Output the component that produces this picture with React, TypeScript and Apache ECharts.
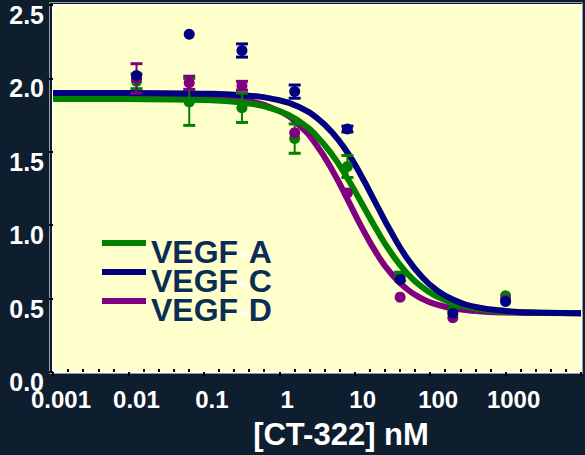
import React, { useEffect, useRef } from "react";
import * as echarts from "echarts";

// Fitted curve readings (x in nM, y response)
const curveX = [0.001, 0.01, 0.1, 0.3, 1, 2, 3, 5, 8, 12, 20, 30, 50, 80, 120, 200, 400, 1000, 3000, 10000];
const curveA = [1.86, 1.859, 1.853, 1.837, 1.778, 1.695, 1.618, 1.482, 1.32, 1.162, 0.96, 0.816, 0.67, 0.574, 0.517, 0.469, 0.433, 0.412, 0.404, 0.401];
const curveC = [1.9, 1.9, 1.896, 1.887, 1.851, 1.795, 1.74, 1.634, 1.495, 1.344, 1.128, 0.958, 0.771, 0.641, 0.561, 0.494, 0.444, 0.416, 0.404, 0.401];
const curveD = [1.88, 1.88, 1.873, 1.854, 1.777, 1.664, 1.558, 1.378, 1.178, 0.999, 0.799, 0.674, 0.562, 0.497, 0.461, 0.434, 0.415, 0.405, 0.402, 0.4];

// Measured points
const conc = [0.0128, 0.064, 0.32, 1.6, 8, 40, 200, 1000];
const meanA = [1.98, 1.84, 1.8, 1.59, 1.4, 0.65, 0.42, 0.52];
const errA = [0.05, 0.16, 0.1, 0.1, 0.075, 0.03, 0, 0];
const meanC = [2.02, 2.3, 2.19, 1.91, 1.655, 0.63, 0.4, 0.48];
const errC = [0, 0, 0.045, 0.045, 0.02, 0, 0, 0];
const meanD = [2.0, 1.97, 1.95, 1.63, 1.22, 0.51, 0.37, 0.49];
const errD = [0.1, 0.045, 0.03, 0, 0, 0, 0, 0];

const seriesNames = ["VEGF-A", "VEGF-C", "VEGF-D"];
const xTickLabels = ["0.001", "0.01", "0.1", "1", "10", "100", "1000", ""];
const yTickLabels = ["0.0", "0.5", "1.0", "1.5", "2.0", "2.5"];

const COLORS: Record<string, string> = {
  "VEGF-A": "#008000",
  "VEGF-C": "#000080",
  "VEGF-D": "#800080",
};
const FONT = "'Liberation Sans', Arial, Helvetica, sans-serif";

function pairs(xs: number[], ys: number[]) {
  return xs.map((x, i) => [x, ys[i]]);
}
function triples(xs: number[], ys: number[], es: number[]) {
  return xs.map((x, i) => [x, ys[i], es[i]]);
}

function errorSeries(name: string, xs: number[], ys: number[], es: number[], z: number) {
  const color = COLORS[name];
  return {
    type: "custom",
    name,
    z,
    xAxisIndex: 0,
    itemStyle: { color },
    data: triples(xs, ys, es),
    encode: { x: 0, y: 1 },
    renderItem: (params: any, api: any) => {
      const x = api.value(0);
      const m = api.value(1);
      const e = api.value(2);
      if (!e) return { type: "group", children: [] };
      const top = api.coord([x, m + e]);
      const bot = api.coord([x, m - e]);
      const hw = 6;
      return {
        type: "group",
        children: [
          { type: "line", shape: { x1: top[0], y1: top[1], x2: bot[0], y2: bot[1] }, style: { stroke: color, lineWidth: 2 } },
          { type: "line", shape: { x1: top[0] - hw, y1: top[1], x2: top[0] + hw, y2: top[1] }, style: { stroke: color, lineWidth: 3 } },
          { type: "line", shape: { x1: bot[0] - hw, y1: bot[1], x2: bot[0] + hw, y2: bot[1] }, style: { stroke: color, lineWidth: 3 } },
        ],
      };
    },
  };
}

function curveSeries(name: string, ys: number[], z: number) {
  return {
    type: "line",
    name,
    z,
    xAxisIndex: 0,
    data: pairs(curveX, ys),
    smooth: true,
    showSymbol: false,
    symbol: "none",
    lineStyle: { color: COLORS[name], width: 6 },
    itemStyle: { color: COLORS[name] },
  };
}

function pointSeries(name: string, ys: number[], z: number) {
  return {
    type: "scatter",
    name,
    z,
    xAxisIndex: 0,
    data: pairs(conc, ys),
    symbol: "circle",
    symbolSize: 11,
    itemStyle: { color: COLORS[name], opacity: 1 },
  };
}

export default function App() {
  const ref = useRef<HTMLDivElement>(null);

  useEffect(() => {
    document.body.style.margin = "0";
    if (!ref.current) return;
    const chart = echarts.init(ref.current, null, { renderer: "svg" });
    const richBase = { fontFamily: FONT, fontSize: 32, fontWeight: "bold", lineHeight: 30 };
    const option: any = {
      animation: false,
      backgroundColor: "#0F1E2F",
      grid: {
        left: 53,
        right: 4,
        top: 5,
        bottom: 83,
        show: true,
        backgroundColor: "#FFFFCC",
        borderColor: "#FFFFFF",
        borderWidth: 2,
        outerBoundsMode: "none",
        containLabel: false,
      },
      graphic: [
        {
          type: "rect",
          silent: true,
          z: -1,
          shape: { x: 49.5, y: 2.5, width: 533, height: 371 },
          style: { fill: "none", stroke: "#9A9A9A", lineWidth: 1 },
        },
      ],
      legend: {
        orient: "vertical",
        left: 97,
        top: 231,
        itemWidth: 44,
        itemHeight: 24,
        itemGap: -3,
        // bar at the top of a 24px-tall icon box (the lower sub-path has no area)
        icon: "path://M0,0H44V6H0Z M0,24H44",
        data: seriesNames,
        selectedMode: false,
        formatter: (name: string) => {
          const [a, b] = name.split("-");
          return `{t|${a}}{h|-}{t|${b}}`;
        },
        textStyle: {
          fontFamily: FONT,
          fontSize: 32,
          fontWeight: "bold",
          color: "#0A2D55",
          lineHeight: 30,
          rich: {
            t: { ...richBase, color: "#0A2D55" },
            h: { ...richBase, color: "#FFFFFF" },
          },
        },
      },
      xAxis: [
        {
          type: "log",
          logBase: 10,
          min: 0.001,
          max: 10000,
          name: "[CT-322] nM",
          nameLocation: "middle",
          nameGap: 47,
          nameTextStyle: {
            fontFamily: FONT,
            fontSize: 31,
            fontWeight: "bold",
            color: "#FFFFFF",
            lineHeight: 31,
            padding: [0, 0, 0, 48],
          },
          axisLine: { show: true, onZero: false, lineStyle: { color: "#FFFFFF", width: 2 } },
          axisTick: { show: true, length: 4, lineStyle: { color: "#000000", width: 2 } },
          minorTick: { show: false },
          splitLine: { show: false },
          minorSplitLine: { show: false },
          axisLabel: {
            fontFamily: FONT,
            fontSize: 24,
            fontWeight: "bold",
            color: "#FFFFFF",
            margin: 15,
            padding: [0, 0, 0, 16],
            showMinLabel: true,
            showMaxLabel: true,
            hideOverlap: false,
            formatter: (v: number) => {
              const i = Math.round(Math.log10(v)) + 3;
              return xTickLabels[i] ?? "";
            },
          },
        },
        {
          // decade subdivisions (evenly spaced in log space), ticks only
          type: "value",
          position: "bottom",
          min: -3,
          max: 4,
          interval: 1,
          axisLine: { show: false, onZero: false },
          axisTick: { show: false, inside: true },
          minorTick: { show: true, splitNumber: 5, length: 3, lineStyle: { color: "#000000", width: 2 } },
          axisLabel: { show: false },
          splitLine: { show: false },
          minorSplitLine: { show: false },
        },
      ],
      yAxis: {
        type: "value",
        min: 0,
        max: 2.5,
        interval: 0.5,
        axisLine: { show: true, onZero: false, lineStyle: { color: "#FFFFFF", width: 2 } },
        axisTick: { show: true, length: 4, lineStyle: { color: "#000000", width: 2 } },
        splitLine: { show: false },
        axisLabel: {
          fontFamily: FONT,
          fontSize: 25,
          fontWeight: "bold",
          color: "#FFFFFF",
          margin: 9,
          verticalAlign: "top",
          lineHeight: 20,
          formatter: (v: number) => yTickLabels[Math.round(v / 0.5)] ?? "",
        },
      },
      series: [
        curveSeries("VEGF-D", curveD, 2),
        curveSeries("VEGF-A", curveA, 3),
        curveSeries("VEGF-C", curveC, 4),
        errorSeries("VEGF-A", conc, meanA, errA, 5),
        pointSeries("VEGF-A", meanA, 6),
        errorSeries("VEGF-D", conc, meanD, errD, 7),
        pointSeries("VEGF-D", meanD, 8),
        errorSeries("VEGF-C", conc, meanC, errC, 9),
        pointSeries("VEGF-C", meanC, 10),
      ],
    };
    chart.setOption(option);
    return () => chart.dispose();
  }, []);

  return <div ref={ref} style={{ width: 585, height: 455 }} />;
}
